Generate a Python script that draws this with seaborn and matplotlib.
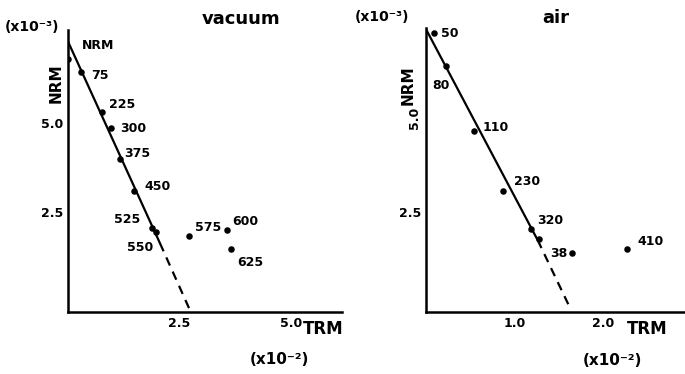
import numpy as np
import pandas as pd
import seaborn as sns
import matplotlib.pyplot as plt
from matplotlib.transforms import ScaledTranslation

# vacuum panel (TRM in 1e-2, NRM in 1e-3)
vac_trm = [0.0, 0.29, 0.77, 0.96, 1.17, 1.48, 1.88, 1.97, 2.72, 3.56, 3.65]
vac_nrm = [6.32, 6.01, 5.01, 4.59, 3.82, 3.03, 2.11, 1.99, 1.91, 2.05, 1.57]
vac_labels = ["NRM", "75", "225", "300", "375", "450", "525", "550", "575", "600", "625"]
vac_fit_x = [0.0, 2.06, 2.75]
vac_fit_y = [6.76, 1.72, 0.0]

# air panel
air_trm = [0.09, 0.22, 0.54, 0.87, 1.19, 1.27, 1.65, 2.27]
air_nrm = [6.97, 6.15, 4.53, 3.03, 2.07, 1.83, 1.47, 1.57]
air_labels = ["50", "80", "110", "230", "320", "", "38", "410"]
air_fit_x = [0.0, 1.26, 1.62]
air_fit_y = [7.07, 1.80, 0.13]

sns.set_style("white")
plt.rcParams["font.family"] = ["DejaVu Sans"]
plt.rcParams["text.color"] = "black"
plt.rcParams["xtick.color"] = "black"
plt.rcParams["ytick.color"] = "black"

# label offsets in pixels (dx, dy), up is positive
vac_offsets = [(30, 14), (19, -4), (20, 7), (22, 0), (17, 6), (23, 4),
               (-25, 8), (-16, -15), (19, 8), (18, 8), (19, -13)]
air_offsets = [(16, 0), (-5, -19), (22, 3), (24, 9), (19, 9), (0, 0),
               (-13, 0), (24, 8)]


def draw_panel(ax, trm, nrm, labels, offsets, fit_x, fit_y, xlim, ylim):
    df = pd.DataFrame({"TRM": trm, "NRM": nrm})
    sns.scatterplot(data=df, x="TRM", y="NRM", ax=ax, color="black", s=22,
                    edgecolor="black", linewidth=0, zorder=3)
    solid = pd.DataFrame({"x": fit_x[:2], "y": fit_y[:2]})
    dashed = pd.DataFrame({"x": fit_x[1:], "y": fit_y[1:]})
    sns.lineplot(data=solid, x="x", y="y", ax=ax, color="black", lw=1.6)
    sns.lineplot(data=dashed, x="x", y="y", ax=ax, color="black", lw=1.6,
                 linestyle=(0, (4, 3)))
    for x, y, lab, off in zip(trm, nrm, labels, offsets):
        if lab:
            ax.annotate(lab, (x, y), xytext=off, textcoords="offset pixels",
                        ha="center", va="center", fontsize=9, fontweight="bold")
    ax.set_xlim(*xlim)
    ax.set_ylim(*ylim)
    sns.despine(ax=ax)
    for s in ["left", "bottom"]:
        ax.spines[s].set_linewidth(1.8)
        ax.spines[s].set_color("black")
    ax.tick_params(direction="in", length=3, width=1.5, labelsize=9)
    ax.set_xlabel("")
    ax.set_ylabel("")


fig = plt.figure(figsize=(6.85, 3.74), dpi=100)
ax1 = fig.add_axes([0.0993, 0.1658, 0.40, 0.754])
ax2 = fig.add_axes([0.622, 0.1658, 0.38, 0.759])

draw_panel(ax1, vac_trm, vac_nrm, vac_labels, vac_offsets,
           vac_fit_x, vac_fit_y, (0, 6.14), (0, 7.05))
ax1.set_xticks([2.5, 5.0])
ax1.set_xticklabels(["2.5", "5.0"], fontweight="bold")
ax1.set_yticks([2.5, 5.0])
ax1.set_yticklabels(["2.5", "5.0"], fontweight="bold")
# the 5.0 label sits a bit below its tick in the original
lab = ax1.get_yticklabels()[1]
lab.set_transform(lab.get_transform() + ScaledTranslation(0, -0.11, fig.dpi_scale_trans))
ax1.text(0.63, 1.04, "vacuum", transform=ax1.transAxes, fontsize=13,
         fontweight="bold", ha="center", va="center")
ax1.text(-0.045, 0.81, "NRM", transform=ax1.transAxes, rotation=90,
         fontsize=11, fontweight="bold", ha="center", va="center")
ax1.text(-0.13, 1.01, "(x10⁻³)", transform=ax1.transAxes, fontsize=10,
         fontweight="bold", ha="center", va="center")
ax1.text(0.93, -0.06, "TRM", transform=ax1.transAxes, fontsize=12,
         fontweight="bold", ha="center", va="center")
ax1.text(0.77, -0.17, "(x10⁻²)", transform=ax1.transAxes, fontsize=11,
         fontweight="bold", ha="center", va="center")

draw_panel(ax2, air_trm, air_nrm, air_labels, air_offsets,
           air_fit_x, air_fit_y, (0, 2.94), (0, 7.1))
ax2.set_xticks([1.0, 2.0])
ax2.set_xticklabels(["1.0", "2.0"], fontweight="bold")
ax2.set_yticks([2.5, 5.0])
ax2.set_yticklabels(["2.5", "5.0"], fontweight="bold")
ax2.get_yticklabels()[1].set_rotation(90)
ax2.text(0.50, 1.035, "air", transform=ax2.transAxes, fontsize=13,
         fontweight="bold", ha="center", va="center")
ax2.text(-0.07, 0.80, "NRM", transform=ax2.transAxes, rotation=90,
         fontsize=11, fontweight="bold", ha="center", va="center")
ax2.text(-0.17, 1.04, "(x10⁻³)", transform=ax2.transAxes, fontsize=10,
         fontweight="bold", ha="center", va="center")
ax2.text(0.85, -0.06, "TRM", transform=ax2.transAxes, fontsize=12,
         fontweight="bold", ha="center", va="center")
ax2.text(0.715, -0.17, "(x10⁻²)", transform=ax2.transAxes, fontsize=11,
         fontweight="bold", ha="center", va="center")

fig.savefig("out.png", dpi=100)
